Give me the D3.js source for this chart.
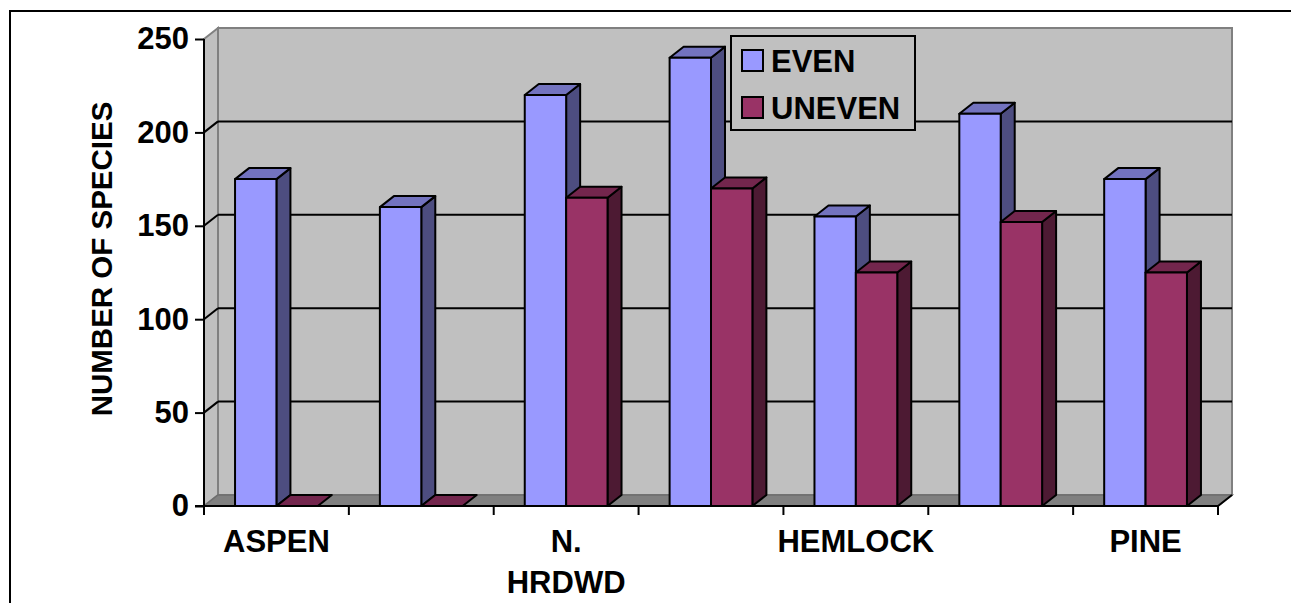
<!DOCTYPE html>
<html>
<head>
<meta charset="utf-8">
<script src="https://cdn.jsdelivr.net/npm/d3@7"></script>
<style>
  html, body { margin: 0; padding: 0; background: #fff; }
  svg { display: block; }
  text { font-family: "Liberation Sans", Arial, sans-serif; font-weight: bold; fill: #000; }
</style>
</head>
<body>
<svg id="chart" width="1291" height="603"></svg>
<script>
// Forest types (only every other label fits under the axis)
const categories = ["ASPEN", "", "N. HRDWD", "", "HEMLOCK", "", "PINE"];
const seriesNames = ["EVEN", "UNEVEN"];
const evenValues = [175, 160, 220, 240, 155, 210, 175];
const unevenValues = [0, 0, 165, 170, 125, 152, 125];
const yTicks = [0, 50, 100, 150, 200, 250];
const yTitle = "NUMBER OF SPECIES";

const colors = {
  EVEN:   { front: "#9999FF", top: "#7373BF", side: "#4D4D80" },
  UNEVEN: { front: "#993366", top: "#73264D", side: "#4D1A33" }
};

const svg = d3.select("#chart");

// Plot geometry: front plane and depth offset of the 3D box
const x0 = 204, x1 = 1218;
const DX = 14, DY = -11;

const x = d3.scaleBand().domain(d3.range(categories.length)).range([x0, x1]).paddingInner(0).paddingOuter(0);
const xs = d3.scaleBand().domain(seriesNames).range([0, x.bandwidth()]).paddingInner(0).paddingOuter(0.75);
const y = d3.scaleLinear().domain([0, 250]).range([506, 39]);

const series = [
  { name: "EVEN", values: evenValues },
  { name: "UNEVEN", values: unevenValues }
];

// Outer frame
svg.append("rect")
  .attr("x", 10).attr("y", 11).attr("width", 1400).attr("height", 700)
  .attr("fill", "none").attr("stroke", "#000").attr("stroke-width", 2);

const yTop = y(250), yBot = y(0);

// Back wall
svg.append("rect")
  .attr("x", x0 + DX).attr("y", yTop + DY)
  .attr("width", x1 - x0).attr("height", yBot - yTop)
  .attr("fill", "#C0C0C0").attr("stroke", "#808080").attr("stroke-width", 2);

// Side wall
svg.append("polygon")
  .attr("points", [[x0, yTop], [x0 + DX, yTop + DY], [x0 + DX, yBot + DY], [x0, yBot]].join(" "))
  .attr("fill", "#C0C0C0").attr("stroke", "#808080").attr("stroke-width", 2);

// Floor
svg.append("polygon")
  .attr("points", [[x0, yBot], [x1, yBot], [x1 + DX, yBot + DY], [x0 + DX, yBot + DY]].join(" "))
  .attr("fill", "#808080").attr("stroke", "#6E6E6E").attr("stroke-width", 1.5);

// Gridlines on back wall and side wall
const gridVals = yTicks.filter(v => v > 0 && v < 250);
svg.append("g").selectAll("line.back").data(gridVals).join("line")
  .attr("x1", x0 + DX).attr("x2", x1 + DX)
  .attr("y1", d => y(d) + DY).attr("y2", d => y(d) + DY)
  .attr("stroke", "#000").attr("stroke-width", 2);
svg.append("g").selectAll("line.side").data(gridVals).join("line")
  .attr("x1", x0).attr("x2", x0 + DX)
  .attr("y1", d => y(d)).attr("y2", d => y(d) + DY)
  .attr("stroke", "#000").attr("stroke-width", 2);

// Right edge of floor
svg.append("line")
  .attr("x1", x1).attr("y1", yBot).attr("x2", x1 + DX).attr("y2", yBot + DY)
  .attr("stroke", "#000").attr("stroke-width", 2);

// Bars
const barG = svg.append("g");
categories.forEach((c, i) => {
  series.forEach(s => {
    const v = s.values[i];
    const bx = x(i) + xs(s.name);
    const bw = xs.bandwidth();
    const by = y(v);
    const col = colors[s.name];
    const g = barG.append("g").attr("stroke", "#000").attr("stroke-width", 2).attr("stroke-linejoin", "round");
    if (v > 0) {
      g.append("polygon")
        .attr("points", [[bx + bw, by], [bx + bw + DX, by + DY], [bx + bw + DX, yBot + DY], [bx + bw, yBot]].join(" "))
        .attr("fill", col.side);
    }
    g.append("polygon")
      .attr("points", [[bx, by], [bx + DX, by + DY], [bx + bw + DX, by + DY], [bx + bw, by]].join(" "))
      .attr("fill", col.top);
    if (v > 0) {
      g.append("rect")
        .attr("x", bx).attr("y", by).attr("width", bw).attr("height", yBot - by)
        .attr("fill", col.front);
    }
  });
});

// Y axis
const yAxis = d3.axisLeft(y).tickValues(yTicks).tickSize(9).tickPadding(6);
const yg = svg.append("g").attr("transform", `translate(${x0},0)`).call(yAxis);
yg.select(".domain").attr("stroke", "#000").attr("stroke-width", 2).attr("d", `M0,${yTop}V${yBot}`);
yg.selectAll(".tick line").attr("stroke", "#000").attr("stroke-width", 2);
yg.selectAll(".tick text")
  .style("font-family", "'Liberation Sans', Arial, sans-serif")
  .style("font-weight", "bold").style("font-size", "31px").attr("fill", "#000");

// X axis
const xAxis = d3.axisBottom(x).tickSize(0).tickFormat("");
const xg = svg.append("g").attr("transform", `translate(0,${yBot})`).call(xAxis);
xg.select(".domain").attr("stroke", "#000").attr("stroke-width", 2).attr("d", `M${x0 - 9},0H${x1}`);
xg.selectAll(".tick").remove();
const boundaries = d3.range(categories.length + 1).map(i => i < categories.length ? x(i) : x1);
xg.selectAll("line.bound").data(boundaries).join("line")
  .attr("x1", d => d).attr("x2", d => d).attr("y1", 0).attr("y2", 9)
  .attr("stroke", "#000").attr("stroke-width", 2);

// Category labels, wrapped to the category width
const labelG = svg.append("g");
categories.forEach((c, i) => {
  if (!c) return;
  const cx = x(i) + x.bandwidth() / 2;
  const t = labelG.append("text").attr("x", cx).attr("y", 552)
    .attr("text-anchor", "middle").style("font-size", "31px");
  const words = c.split(" ");
  let line = [], lineNo = 0;
  let tspan = t.append("tspan").attr("x", cx).attr("dy", 0);
  words.forEach(w => {
    line.push(w);
    tspan.text(line.join(" "));
    if (tspan.node().getComputedTextLength() > x.bandwidth() && line.length > 1) {
      line.pop();
      tspan.text(line.join(" "));
      line = [w];
      lineNo++;
      tspan = t.append("tspan").attr("x", cx).attr("dy", 40.5).text(w);
    }
  });
});

// Y axis title
svg.append("text")
  .attr("transform", "translate(112,259) rotate(-90)")
  .attr("text-anchor", "middle")
  .style("font-size", "29.5px")
  .text(yTitle);

// Legend
const lg = svg.append("g");
lg.append("rect").attr("x", 731).attr("y", 36).attr("width", 184).attr("height", 94)
  .attr("fill", "#C0C0C0").attr("stroke", "#000").attr("stroke-width", 2);
series.forEach((s, i) => {
  const yy = 50 + i * 47;
  lg.append("rect").attr("x", 742).attr("y", yy).attr("width", 21).attr("height", 21)
    .attr("fill", colors[s.name].front).attr("stroke", "#000").attr("stroke-width", 2);
  lg.append("text").attr("x", 771).attr("y", yy + 21.5).style("font-size", "31px").text(s.name);
});
</script>
</body>
</html>
